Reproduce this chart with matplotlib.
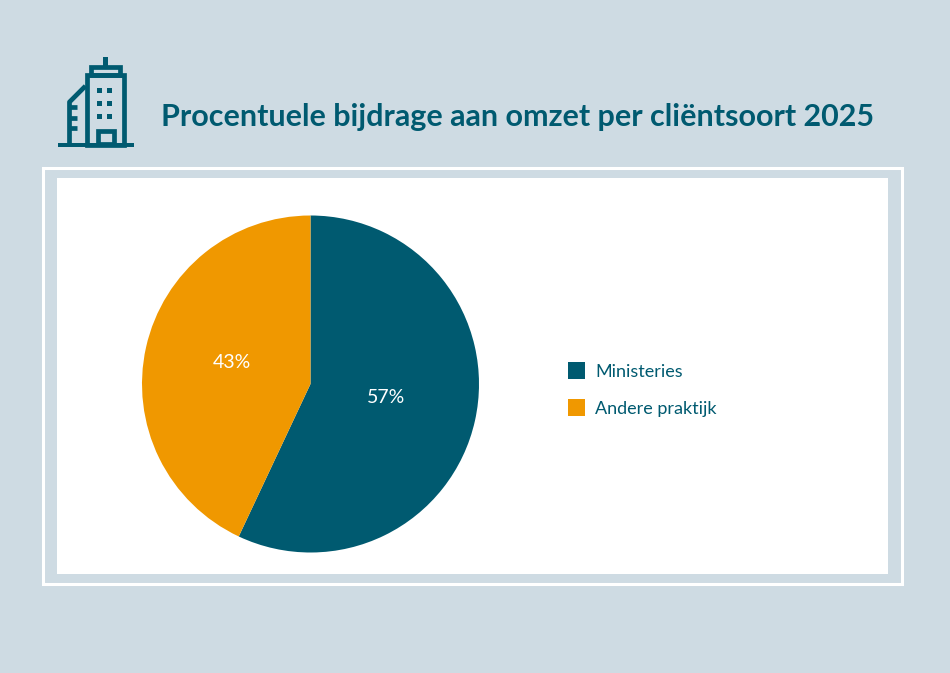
import matplotlib
matplotlib.use("Agg")
import matplotlib.pyplot as plt
import matplotlib.patches as mpatches

W, H = 950, 673
BG = "#cedbe3"
TEAL = "#005a70"
ORANGE = "#f09800"

# data
categories = ["Ministeries", "Andere praktijk"]
shares = [57, 43]
colors = [TEAL, ORANGE]
title = "Procentuele bijdrage aan omzet per cliëntsoort 2025"

plt.rcParams["font.family"] = ["Lato", "DejaVu Sans"]

fig = plt.figure(figsize=(W / 100, H / 100), dpi=100, facecolor=BG)

# overlay in pixel coords for frame + icon
bg = fig.add_axes([0, 0, 1, 1])
bg.set_xlim(0, W)
bg.set_ylim(H, 0)
bg.axis("off")


def box(x0, y0, x1, y1, **kw):
    bg.add_patch(mpatches.Rectangle((x0, y0), x1 - x0, y1 - y0, **kw))


# frame
box(43, 168, 902, 584, fill=False, edgecolor="white", linewidth=2.2)
box(57, 178, 888, 574, facecolor="white", edgecolor="none")

# building icon
LW = 3.4
box(58.3, 142.7, 134.3, 147.3, facecolor=TEAL, edgecolor="none")
box(86.5, 75, 124, 145, fill=False, edgecolor=TEAL, linewidth=LW)
box(90.5, 66.5, 119.5, 75, fill=False, edgecolor=TEAL, linewidth=LW)
box(102.7, 57.3, 107.7, 66, facecolor=TEAL, edgecolor="none")
bg.plot([69.5, 69.5, 85.5], [145, 102, 86], color=TEAL, lw=LW, solid_capstyle="butt")
for y in [106.7, 118.3, 128.3]:
    bg.plot([69.5, 77], [y, y], color=TEAL, lw=LW, solid_capstyle="butt")
for x in [97, 107]:
    for y in [87.7, 101, 114.3]:
        box(x, y, x + 5.3, y + 5, facecolor=TEAL, edgecolor="none")
box(97.5, 131, 113.5, 144, fill=False, edgecolor=TEAL, linewidth=LW)

bg.text(161, 117, title, color=TEAL, fontsize=22, fontweight="bold",
        ha="left", va="center")

# pie
R = 168.5
cx, cy = 310.5, 384
ax = fig.add_axes([(cx - R) / W, 1 - (cy + R) / H, 2 * R / W, 2 * R / H])
ax.set_facecolor("none")
wedges, _, pct = ax.pie(shares, colors=colors, startangle=90, counterclock=False,
                        radius=1, autopct=lambda p: f"{p:.0f}%", pctdistance=0.47,
                        textprops={"color": "white", "fontsize": 14})
ax.set_xlim(-1, 1)
ax.set_ylim(-1, 1)
for t in pct:
    x, y = t.get_position()
    t.set_position((x - 0.008, y + 0.025))

fig.legend(wedges, categories, loc="center left", bbox_to_anchor=(551.75 / W, 1 - 389.5 / H),
           frameon=False, fontsize=13, labelcolor=TEAL, handlelength=0.94, handleheight=1.07,
           handletextpad=0.55, labelspacing=1.1)

fig.savefig("out.png", dpi=100, facecolor=BG)
